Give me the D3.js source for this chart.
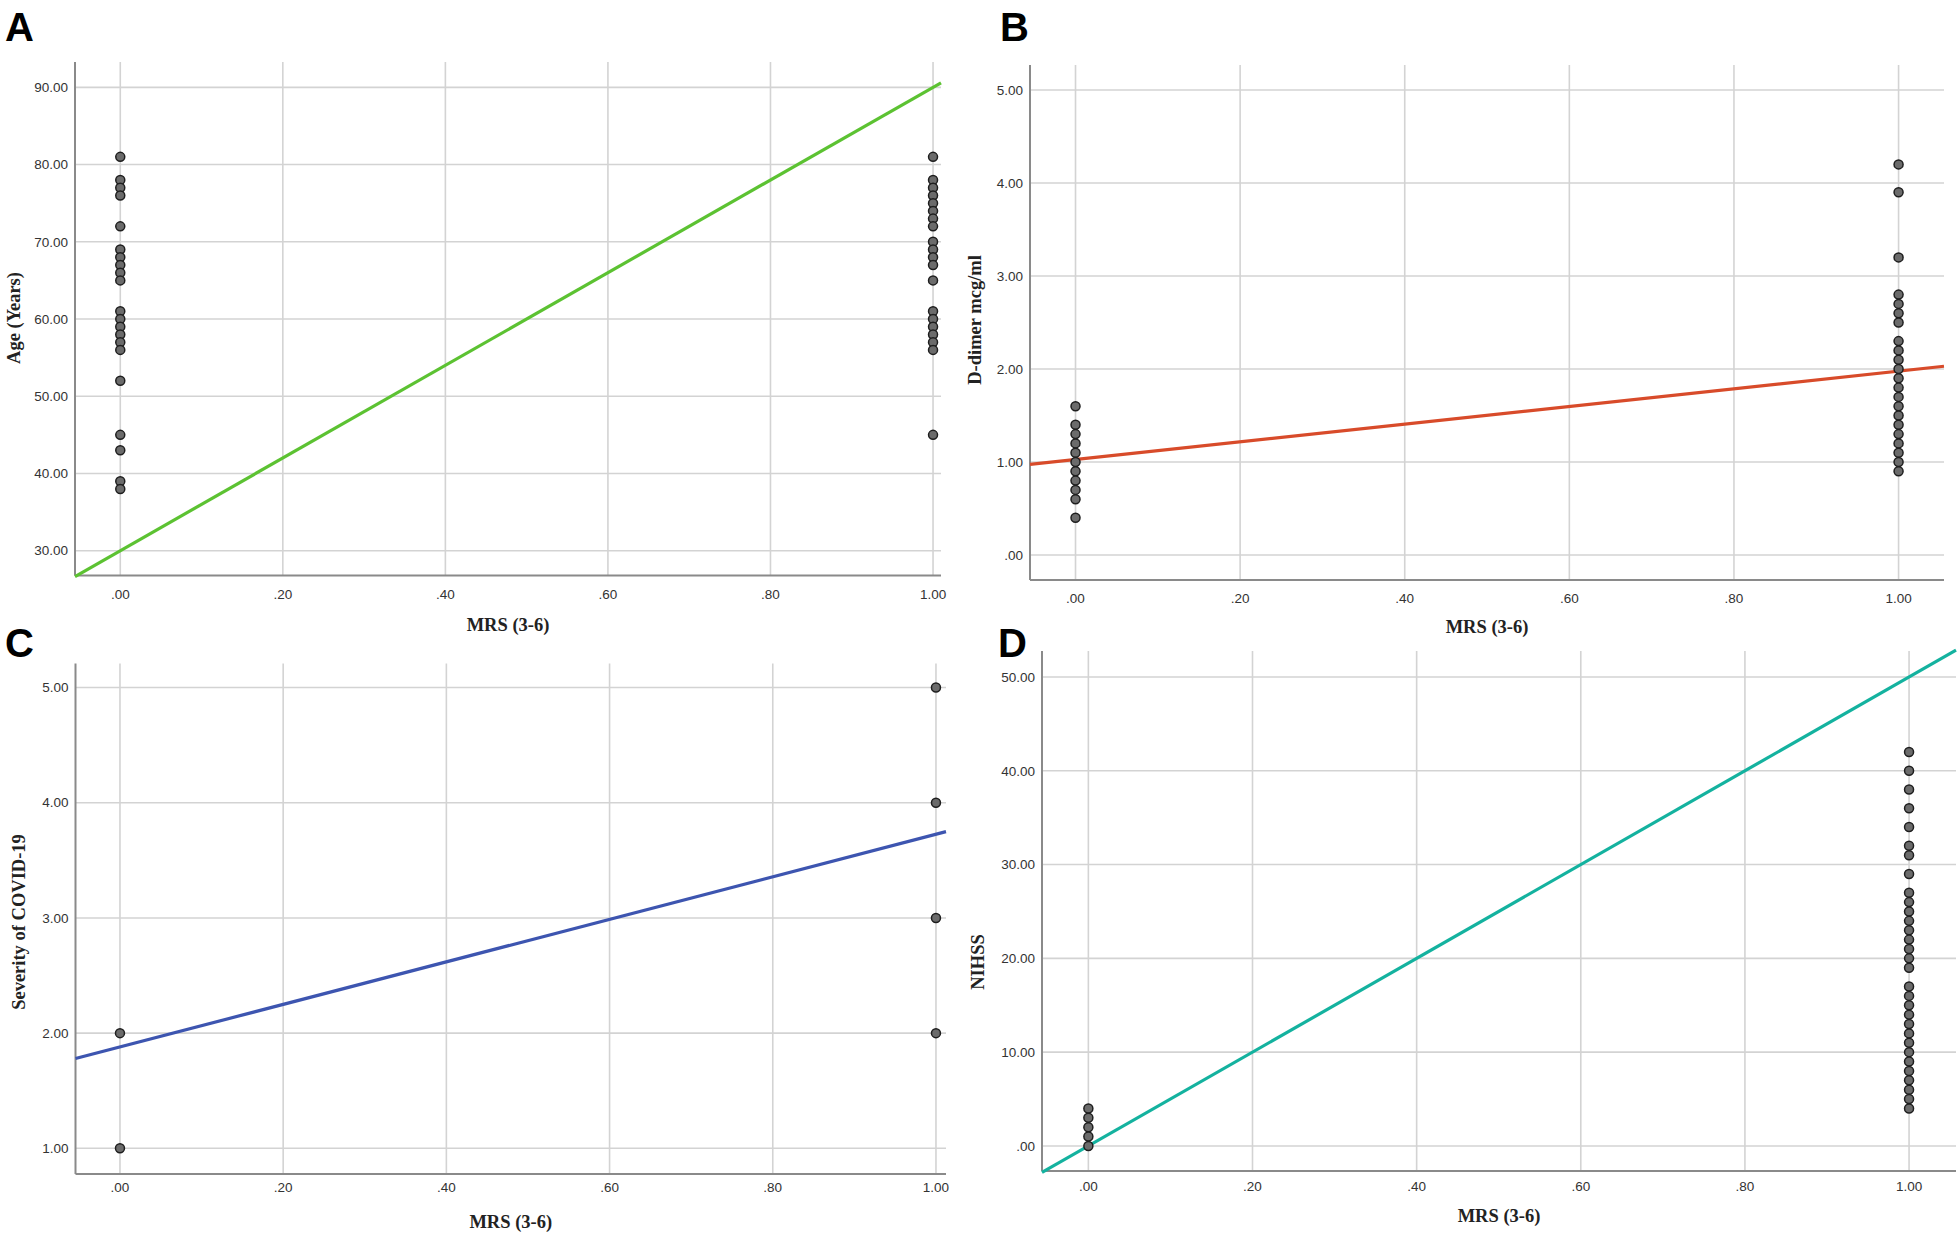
<!DOCTYPE html>
<html><head><meta charset="utf-8">
<script src="https://cdn.jsdelivr.net/npm/d3@7"></script>
<style>
html,body{margin:0;padding:0;background:#fff;}
svg{display:block;}
</style></head>
<body>
<svg id="chart" width="1960" height="1234"></svg>
<script>
// ---------- DATA ----------
const xTicks = [0, 0.2, 0.4, 0.6, 0.8, 1.0];
const xTickLabels = [".00", ".20", ".40", ".60", ".80", "1.00"];
const xTitle = "MRS (3-6)";

// A: Age
const ageMrs0 = [81,78,77,76,72,69,68,67,66,65,61,60,59,58,57,56,52,45,43,39,38];
const ageMrs1 = [81,78,77,76,75,74,73,72,70,69,68,67,65,61,60,59,58,57,56,45];
const ageFit = [30.0, 60.0]; // intercept, slope
const ageTicks = [30,40,50,60,70,80,90];
const ageTickLabels = ["30.00","40.00","50.00","60.00","70.00","80.00","90.00"];

// B: D-dimer
const ddMrs0 = [1.6,1.4,1.3,1.2,1.1,1.0,0.9,0.8,0.7,0.6,0.4];
const ddMrs1 = [4.2,3.9,3.2,2.8,2.7,2.6,2.5,2.3,2.2,2.1,2.0,1.9,1.8,1.7,1.6,1.5,1.4,1.3,1.2,1.1,1.0,0.9];
const ddFit = [1.027, 0.95];
const ddTicks = [0,1,2,3,4,5];
const ddTickLabels = [".00","1.00","2.00","3.00","4.00","5.00"];

// C: Severity
const sevMrs0 = [2,1];
const sevMrs1 = [5,4,3,2];
const sevFit = [1.88, 1.847];
const sevTicks = [1,2,3,4,5];
const sevTickLabels = ["1.00","2.00","3.00","4.00","5.00"];

// D: NIHSS
const nihMrs0 = [4,3,2,1,0];
const nihMrs1 = [42,40,38,36,34,32,31,29,27,26,25,24,23,22,21,20,19,17,16,15,14,13,12,11,10,9,8,7,6,5,4];
const nihFit = [0.0, 50.0];
const nihTicks = [0,10,20,30,40,50];
const nihTickLabels = [".00","10.00","20.00","30.00","40.00","50.00"];

// ---------- LAYOUT ----------
const panels = [
  {letter:"A", lx:5, ly:41, box:{l:75,r:941,t:62,b:575.5}, xd:[-0.0557,1.0098], yd:[26.79,93.28],
   g0:ageMrs0, g1:ageMrs1, fit:ageFit, yt:ageTicks, ytl:ageTickLabels, ytitle:"Age (Years)", color:"#5cc232",
   ytx:14, yty:318, xty:631, xtl:594},
  {letter:"B", lx:1000, ly:41, box:{l:1030,r:1944,t:65,b:580}, xd:[-0.0553,1.0552], yd:[-0.269,5.269],
   g0:ddMrs0, g1:ddMrs1, fit:ddFit, yt:ddTicks, ytl:ddTickLabels, ytitle:"D-dimer mcg/ml", color:"#d84b2a",
   ytx:975, yty:320, xty:633, xtl:598},
  {letter:"C", lx:5, ly:657, box:{l:75.5,r:946,t:663.5,b:1174}, xd:[-0.0545,1.0123], yd:[0.777,5.209],
   g0:sevMrs0, g1:sevMrs1, fit:sevFit, yt:sevTicks, ytl:sevTickLabels, ytitle:"Severity of COVID-19", color:"#3d55b0",
   ytx:19, yty:922, xty:1228, xtl:1187},
  {letter:"D", lx:998, ly:657, box:{l:1042,r:1956,t:651,b:1171}, xd:[-0.0565,1.0572], yd:[-2.67,52.77],
   g0:nihMrs0, g1:nihMrs1, fit:nihFit, yt:nihTicks, ytl:nihTickLabels, ytitle:"NIHSS", color:"#14b29f",
   ytx:978, yty:962, xty:1222, xtl:1186}
];

const svg = d3.select("#chart");

panels.forEach(p => {
  const b = p.box;
  const x = d3.scaleLinear().domain(p.xd).range([b.l, b.r]);
  const y = d3.scaleLinear().domain(p.yd).range([b.b, b.t]);
  const g = svg.append("g");

  // gridlines
  g.append("g").selectAll("line.h").data(p.yt).join("line")
    .attr("x1", b.l).attr("x2", b.r).attr("y1", d => y(d)).attr("y2", d => y(d))
    .attr("stroke", "#d3d3d3").attr("stroke-width", 1.6);
  g.append("g").selectAll("line.v").data(xTicks).join("line")
    .attr("x1", d => x(d)).attr("x2", d => x(d)).attr("y1", b.t).attr("y2", b.b)
    .attr("stroke", "#d3d3d3").attr("stroke-width", 1.6);

  // axes lines
  g.append("line").attr("x1", b.l).attr("x2", b.l).attr("y1", b.t).attr("y2", b.b)
    .attr("stroke", "#8a8a8a").attr("stroke-width", 2);
  g.append("line").attr("x1", b.l).attr("x2", b.r).attr("y1", b.b).attr("y2", b.b)
    .attr("stroke", "#8a8a8a").attr("stroke-width", 2);

  // tick labels
  g.append("g").selectAll("text").data(p.yt).join("text")
    .attr("x", b.l - 7).attr("y", d => y(d)).attr("dy", "0.35em")
    .attr("text-anchor", "end").attr("font-family", "Liberation Sans, Arial, sans-serif")
    .attr("font-size", 13.5).attr("fill", "#333")
    .text((d, i) => p.ytl[i]);
  g.append("g").selectAll("text").data(xTicks).join("text")
    .attr("x", d => x(d)).attr("y", p.xtl).attr("dy", "0.35em")
    .attr("text-anchor", "middle").attr("font-family", "Liberation Sans, Arial, sans-serif")
    .attr("font-size", 13.5).attr("fill", "#333")
    .text((d, i) => xTickLabels[i]);

  // titles
  g.append("text").attr("x", (b.l + b.r) / 2).attr("y", p.xty)
    .attr("text-anchor", "middle").attr("font-family", "Liberation Serif, Times New Roman, serif")
    .attr("font-weight", "bold").attr("font-size", 18.5).attr("fill", "#222").text(xTitle);
  g.append("text").attr("transform", `translate(${p.ytx},${p.yty}) rotate(-90)`)
    .attr("dy", "0.35em")
    .attr("text-anchor", "middle").attr("font-family", "Liberation Serif, Times New Roman, serif")
    .attr("font-weight", "bold").attr("font-size", 18.5).attr("fill", "#222").text(p.ytitle);

  // fit line
  const fy = v => p.fit[0] + p.fit[1] * v;
  const line = d3.line().x(d => x(d)).y(d => y(fy(d)));
  g.append("path").datum([p.xd[0], p.xd[1]]).attr("d", line)
    .attr("fill", "none").attr("stroke", p.color).attr("stroke-width", 3.2);

  // points
  const pts = p.g0.map(v => ({mx:0, v})).concat(p.g1.map(v => ({mx:1, v})));
  g.append("g").selectAll("circle").data(pts).join("circle")
    .attr("cx", d => x(d.mx)).attr("cy", d => y(d.v)).attr("r", 4.5)
    .attr("fill", "#6b6b6b").attr("stroke", "#1e1e1e").attr("stroke-width", 1.5);

  // panel letter
  svg.append("text").attr("x", p.lx).attr("y", p.ly)
    .attr("font-family", "Liberation Sans, Arial, sans-serif").attr("font-weight", "bold")
    .attr("font-size", 40).attr("fill", "#000").text(p.letter);
});
</script>
</body></html>
